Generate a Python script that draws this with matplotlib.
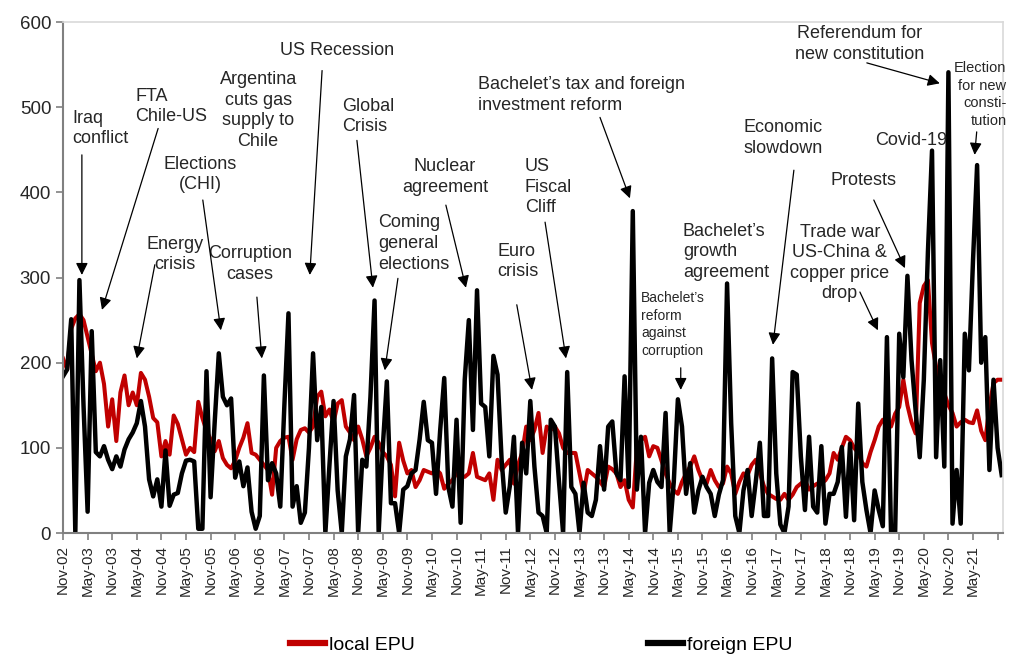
import matplotlib
matplotlib.use("Agg")
import matplotlib.pyplot as plt
import pandas as pd

plt.rcParams['font.family'] = ['Liberation Sans', 'DejaVu Sans']

# --- data: monthly EPU index, Nov-02 .. Dec-21 ---
months = pd.date_range("2002-11-01", periods=230, freq="MS")

local_epu = [
    205, 192, 240, 252, 257, 250, 230, 210, 190, 200,
    175, 125, 157, 108, 165, 185, 150, 165, 150, 188,
    180, 160, 135, 130, 90, 108, 92, 138, 128, 110,
    92, 100, 95, 154, 135, 120, 110, 96, 108, 88,
    80, 76, 85, 100, 112, 129, 94, 92, 86, 80,
    74, 45, 100, 108, 112, 113, 86, 110, 121, 123,
    118, 125, 160, 166, 137, 145, 130, 152, 156, 125,
    118, 109, 125, 110, 90, 100, 113, 106, 95, 90,
    80, 43, 106, 85, 70, 74, 54, 62, 74, 72,
    70, 75, 70, 52, 58, 62, 70, 66, 66, 70,
    94, 66, 64, 62, 70, 39, 86, 74, 80, 86,
    58, 80, 94, 125, 109, 121, 141, 94, 125, 121,
    125, 117, 100, 94, 94, 94, 70, 46, 74, 70,
    66, 60, 54, 78, 75, 70, 54, 62, 39, 30,
    100, 109, 113, 90, 102, 100, 85, 70, 58, 50,
    46, 60, 70, 78, 90, 74, 62, 58, 74, 62,
    54, 58, 78, 70, 46, 60, 70, 68, 80, 86,
    70, 55, 46, 43, 40, 39, 46, 39, 45, 54,
    58, 62, 51, 55, 58, 58, 62, 70, 94, 86,
    100, 113, 109, 100, 94, 82, 78, 95, 109, 125,
    133, 133, 125, 140, 148, 180, 150, 130, 117, 270,
    290, 297, 223, 195, 180, 164, 150, 141, 125, 130,
    133, 130, 129, 144, 120, 109, 148, 176, 180, 180,
]

foreign_epu = [
    184, 192, 251, 0, 297, 150, 25, 237, 95, 90,
    102, 86, 75, 90, 78, 98, 110, 118, 129, 155,
    125, 63, 43, 63, 31, 97, 32, 45, 47, 70,
    85, 86, 84, 5, 5, 190, 42, 130, 211, 160,
    150, 158, 65, 84, 55, 77, 25, 5, 20, 185,
    62, 82, 70, 31, 150, 258, 31, 55, 12, 24,
    100, 211, 109, 148, 0, 80, 155, 50, 0, 90,
    110, 162, 0, 86, 78, 160, 273, 0, 100, 178,
    35, 35, 0, 51, 55, 70, 74, 110, 154, 109,
    106, 46, 120, 182, 54, 31, 133, 12, 180, 250,
    121, 285, 152, 148, 90, 208, 186, 86, 24, 55,
    113, 0, 106, 70, 155, 78, 24, 20, 0, 133,
    125, 60, 0, 189, 54, 46, 0, 59, 24, 20,
    39, 102, 51, 125, 131, 70, 62, 184, 54, 378,
    51, 113, 0, 59, 74, 60, 54, 141, 0, 60,
    157, 125, 46, 82, 24, 50, 66, 54, 46, 20,
    45, 62, 293, 129, 20, 0, 50, 74, 20, 60,
    106, 20, 20, 205, 70, 10, 0, 31, 189, 186,
    90, 27, 113, 31, 24, 102, 11, 46, 46, 60,
    101, 19, 105, 15, 152, 60, 27, 0, 50, 27,
    8, 230, 0, 0, 234, 183, 302, 203, 144, 89,
    180, 330, 449, 89, 203, 78, 541, 11, 74, 11,
    234, 191, 320, 432, 200, 230, 74, 180, 100, 68,
]

x = list(range(len(months)))
tick_pos = x[::6]
tick_labels = [d.strftime("%b-%y") for d in months[::6]]
tick_labels[-1] = ""  # Nov-21 not labelled

# event labels: (text, x, y, ha, fontsize)
events = [
    ("Iraq\nconflict", 2.2, 475, "left", 13),
    ("FTA\nChile-US", 17.6, 501, "left", 13),
    ("Argentina\ncuts gas\nsupply to\nChile", 47.6, 496, "center", 13),
    ("US Recession", 52.9, 567, "left", 13),
    ("Elections\n(CHI)", 33.4, 421, "center", 13),
    ("Energy\ncrisis", 27.3, 327, "center", 13),
    ("Corruption\ncases", 45.6, 316, "center", 13),
    ("Global\nCrisis", 68.0, 489, "left", 13),
    ("Coming\ngeneral\nelections", 76.8, 340, "left", 13),
    ("Nuclear\nagreement", 93.2, 418, "center", 13),
    ("US\nFiscal\nCliff", 112.7, 406, "left", 13),
    ("Euro\ncrisis", 105.9, 319, "left", 13),
    ("Bachelet\u2019s tax and foreign\ninvestment reform", 101.2, 514, "left", 13),
    ("Bachelet\u2019s\nreform\nagainst\ncorruption", 141.0, 245, "left", 10),
    ("Bachelet\u2019s\ngrowth\nagreement", 151.2, 330, "left", 13),
    ("Economic\nslowdown", 175.6, 464, "center", 13),
    ("Trade war\nUS-China &\ncopper price\ndrop", 189.5, 317, "center", 13),
    ("Protests", 195.4, 414, "center", 13),
    ("Covid-19", 198.0, 461, "left", 13),
    ("Referendum for\nnew constitution", 194.4, 574, "center", 13),
    ("Election\nfor new\nconsti-\ntution", 230.2, 515, "right", 10.5),
]

# arrows: (start x, start y, end x, end y)
arrows = [
    (4.6, 444, 4.6, 303),
    (23.2, 475, 9.5, 262),
    (63.2, 543, 60.2, 303),
    (34.1, 391, 38.5, 238),
    (22.4, 315, 18.0, 205),
    (47.3, 277, 48.5, 205),
    (71.7, 461, 75.6, 288),
    (81.7, 299, 78.5, 191),
    (93.4, 385, 98.3, 288),
    (117.6, 365, 122.7, 205),
    (110.7, 268, 114.4, 168),
    (131.0, 488, 138.3, 393),
    (150.7, 194, 150.7, 168),
    (178.3, 426, 173.2, 221),
    (194.4, 283, 198.8, 238),
    (197.8, 391, 205.4, 311),
    (196.1, 552, 213.9, 528),
    (222.9, 471, 222.4, 444),
]

fig = plt.figure(figsize=(10.1, 6.57), dpi=100)
ax = fig.add_axes([0.0624, 0.1887, 0.9306, 0.7778])

ax.plot(x, local_epu, color="#c00000", lw=2.9, label="local EPU")
ax.plot(x, foreign_epu, color="black", lw=3.2, label="foreign EPU")

ax.set_xlim(0, 229.3)
ax.set_ylim(0, 600)
ax.set_yticks(range(0, 601, 100))
ax.set_xticks(tick_pos)
ax.set_xticklabels(tick_labels, rotation=90, fontsize=11, color="#262626")
ax.tick_params(axis="y", labelsize=13.5, labelcolor="#262626")
ax.tick_params(direction="out", length=5, width=1.2, color="#808080")

for s in ("left", "bottom"):
    ax.spines[s].set_color("#808080")
    ax.spines[s].set_linewidth(1.5)
for s in ("top", "right"):
    ax.spines[s].set_color("#d9d9d9")
    ax.spines[s].set_linewidth(1.2)

for txt, tx, ty, ha, fs in events:
    ax.text(tx, ty, txt, ha=ha, va="center", fontsize=fs, color="#262626",
            linespacing=1.28 if fs > 12 else 1.32, clip_on=False)

for x0, y0, x1, y1 in arrows:
    ax.annotate("", xy=(x1, y1), xytext=(x0, y0), annotation_clip=False,
                arrowprops=dict(arrowstyle="-|>", color="black", lw=0.9,
                                mutation_scale=18, shrinkA=0, shrinkB=0))

leg = fig.legend(loc="center", bbox_to_anchor=(0.536, 0.018), ncol=2,
                 frameon=False, fontsize=14, handlelength=1.8,
                 handletextpad=0.2, columnspacing=12)
for line in leg.get_lines():
    line.set_linewidth(4.5)

fig.savefig("out.png", dpi=100)
